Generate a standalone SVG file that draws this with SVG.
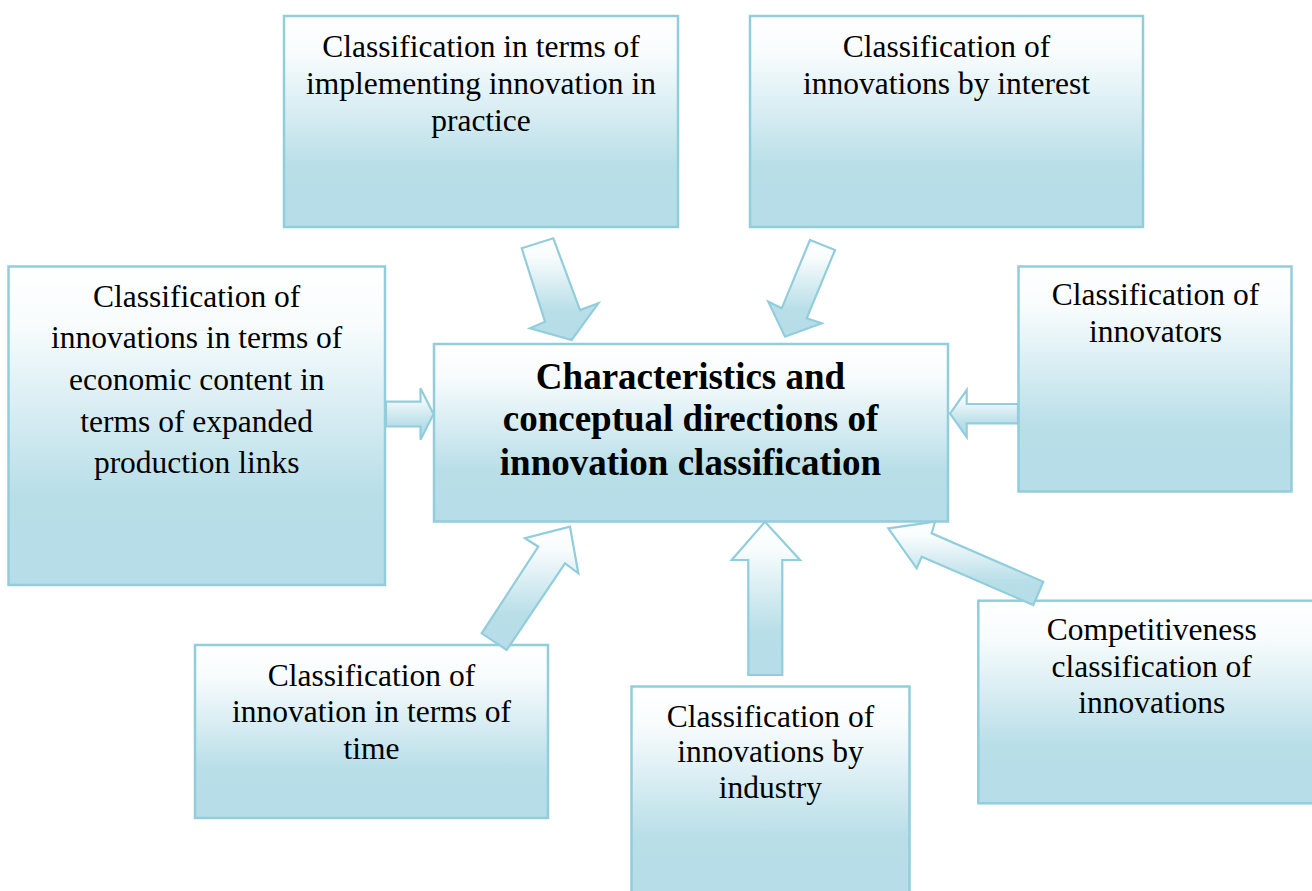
<svg xmlns="http://www.w3.org/2000/svg" width="1312" height="891" viewBox="0 0 1312 891">
<defs>
<linearGradient id="g" x1="0" y1="0" x2="0" y2="1">
<stop offset="0" stop-color="#ffffff"/>
<stop offset="0.18" stop-color="#f8fcfd"/>
<stop offset="0.72" stop-color="#b8dee8"/>
<stop offset="1" stop-color="#b6dde8"/>
</linearGradient>
<style>
.box{fill:url(#g);stroke:#92cddc;stroke-width:2.5}
.arr{fill:url(#g);stroke:#92cddc;stroke-width:2.2;stroke-linejoin:miter}
.t{font-family:"Liberation Serif","Times New Roman",serif;font-size:31.5px;fill:#000;text-anchor:middle}
.tb{font-family:"Liberation Serif","Times New Roman",serif;font-size:37px;font-weight:bold;fill:#000;text-anchor:middle}
</style>
</defs>
<rect width="1312" height="891" fill="#ffffff"/>
<g id="node-implementing">
<rect class="box" x="284" y="16" width="394" height="211"/>
<text class="t" x="481" y="57">Classification in terms of</text>
<text class="t" x="481" y="94">implementing innovation in</text>
<text class="t" x="481" y="131">practice</text>
</g>
<g id="node-interest">
<rect class="box" x="750" y="16" width="393" height="211"/>
<text class="t" x="946.5" y="57">Classification of</text>
<text class="t" x="946.5" y="94">innovations by interest</text>
</g>
<g id="node-economic">
<rect class="box" x="8.5" y="266.5" width="376.5" height="318.5"/>
<text class="t" x="196.7" y="306.7">Classification of</text>
<text class="t" x="196.7" y="348.3">innovations in terms of</text>
<text class="t" x="196.7" y="390">economic content in</text>
<text class="t" x="196.7" y="431.7">terms of expanded</text>
<text class="t" x="196.7" y="473.3">production links</text>
</g>
<g id="node-innovators">
<rect class="box" x="1018.5" y="266.5" width="273" height="225"/>
<text class="t" x="1155.5" y="305">Classification of</text>
<text class="t" x="1155.5" y="341.7">innovators</text>
</g>
<g id="node-center">
<rect class="box" x="434" y="344" width="514" height="177.5"/>
<text class="tb" x="690.5" y="389.3">Characteristics and</text>
<text class="tb" x="690.5" y="431">conceptual directions of</text>
<text class="tb" x="690.5" y="474.5">innovation classification</text>
</g>
<g id="node-time">
<rect class="box" x="195" y="645" width="353" height="173"/>
<text class="t" x="371.5" y="685.5">Classification of</text>
<text class="t" x="371.5" y="722">innovation in terms of</text>
<text class="t" x="371.5" y="758.5">time</text>
</g>
<g id="node-industry">
<rect class="box" x="631.5" y="686.5" width="278" height="210"/>
<text class="t" x="770.5" y="726.7">Classification of</text>
<text class="t" x="770.5" y="762">innovations by</text>
<text class="t" x="770.5" y="798.3">industry</text>
</g>
<g id="node-competitiveness">
<rect class="box" x="978.3" y="600.7" width="340" height="202.6"/>
<text class="t" x="1151.7" y="640">Competitiveness</text>
<text class="t" x="1151.7" y="676.7">classification of</text>
<text class="t" x="1151.7" y="713.3">innovations</text>
</g>
<g id="connectors">
<polygon class="arr" points="521.7,248.3 553.3,238.3 580,310 598.3,303.3 571.7,340 530,328.3 545,321.7"/>
<polygon class="arr" points="810,240 835,250 806.7,318.3 821.7,323.3 785,336.7 768.3,301.7 781.7,308.3"/>
<polygon class="arr" points="386,401.7 420.5,401.7 420.5,388.3 433.5,414 420.5,439.7 420.5,426.5 386,426.5"/>
<polygon class="arr" points="950,413.6 966.7,390 966.7,404 1018,404 1018,423.3 966.7,423.3 966.7,437"/>
<polygon class="arr" points="570,526.7 578.3,573.3 565,563.3 506.7,650 481.7,633.3 538.3,546.7 525,538.3"/>
<polygon class="arr" points="765,521.7 800,560 782.3,560 782.3,675 748.3,675 748.3,560 731.7,560"/>
<polygon class="arr" points="888.3,528.3 935,521.7 931.7,533.3 1043.3,581.7 1033.3,605 921.7,556.7 916.7,568.3"/>
</g>
</svg>
